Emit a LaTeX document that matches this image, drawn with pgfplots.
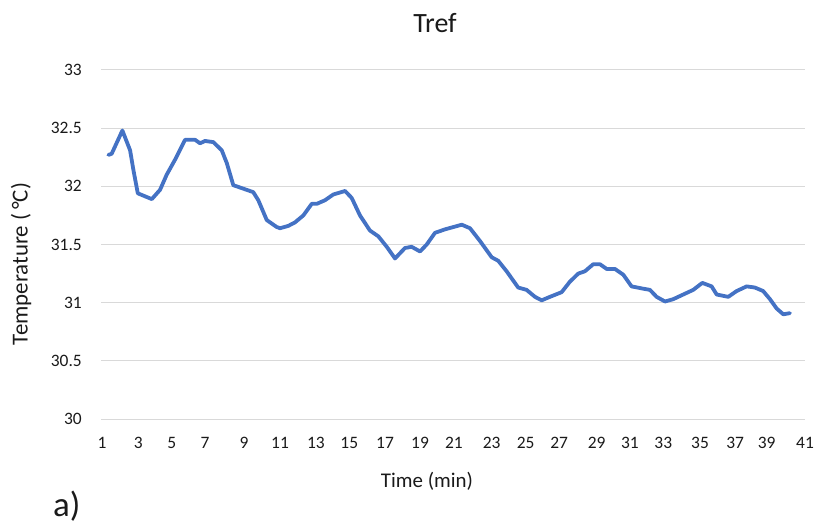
\documentclass[border=0pt]{standalone}
\usepackage{pgfplots}
\pgfplotsset{compat=1.18}
\usepackage{fontspec}
\setmainfont{Carlito}
\definecolor{seriesblue}{HTML}{4472C4}
\definecolor{gridgray}{HTML}{D9D9D9}
\definecolor{txt}{HTML}{1A1A1A}

\begin{document}
\begin{tikzpicture}
\path[use as bounding box] (0,0) rectangle (818bp,526bp);
\begin{axis}[
  at={(101bp,107bp)}, anchor=south west,
  scale only axis,
  width=704bp, height=349bp,
  xmin=0.94, xmax=41.12,
  ymin=30, ymax=33,
  ytick={30,30.5,...,33},
  xtick={1,3.07,4.98,6.88,9.10,11.16,13.21,15.11,17.15,19.15,21.08,23.24,25.18,27.09,29.23,31.13,33.03,35.13,37.13,38.93,41.12},
  xticklabels={1,3,5,7,9,11,13,15,17,19,21,23,25,27,29,31,33,35,37,39,41},
  axis line style={draw=none},
  major tick length=0pt,
  tick style={draw=none},
  ymajorgrids,
  grid style={draw=gridgray, line width=1pt},
  /pgf/number format/assume math mode=true,
  /pgf/number format/fixed,
  yticklabel style={font=\fontsize{17.5}{20}\selectfont, text=txt, inner sep=0pt, anchor=east, xshift=-19bp},
  xticklabel style={font=\fontsize{17.5}{20}\selectfont, text=txt, inner sep=0pt, anchor=north, yshift=-18bp},
  clip=false,
]
\addplot[seriesblue, line width=3.8bp, line join=round, line cap=round] table {
1.36 32.27
1.55 32.28
2.16 32.48
2.60 32.31
2.79 32.14
3.04 31.94
3.36 31.92
3.84 31.89
4.31 31.97
4.69 32.10
5.17 32.23
5.74 32.40
6.31 32.40
6.59 32.37
6.88 32.39
7.35 32.38
7.83 32.31
8.12 32.20
8.49 32.01
9.06 31.98
9.63 31.95
9.92 31.88
10.40 31.71
10.97 31.65
11.16 31.64
11.63 31.66
12.01 31.69
12.49 31.75
12.97 31.85
13.26 31.85
13.72 31.88
14.20 31.93
14.87 31.96
15.25 31.90
15.72 31.75
16.29 31.62
16.77 31.57
17.25 31.48
17.72 31.38
18.29 31.47
18.67 31.48
19.15 31.44
19.53 31.50
20.00 31.60
20.57 31.63
21.05 31.65
21.53 31.67
22.00 31.64
22.57 31.53
23.24 31.39
23.61 31.36
24.09 31.27
24.75 31.13
25.23 31.11
25.71 31.05
26.09 31.02
26.56 31.05
27.23 31.09
27.70 31.18
28.18 31.25
28.56 31.27
29.03 31.33
29.42 31.33
29.80 31.29
30.27 31.29
30.75 31.24
31.22 31.14
31.89 31.12
32.27 31.11
32.65 31.05
33.13 31.01
33.60 31.03
34.17 31.07
34.74 31.11
35.26 31.17
35.79 31.14
36.08 31.07
36.74 31.05
37.22 31.10
37.79 31.14
38.26 31.13
38.73 31.10
39.12 31.03
39.50 30.95
39.88 30.90
40.26 30.91
};
\end{axis}
% title, axis titles and panel tag
\node[text=txt, font=\fontsize{28}{32}\selectfont] at (435bp,503bp) {Tref};
\node[text=txt, font=\fontsize{21}{24}\selectfont] at (427bp,45bp) {Time (min)};
\node[text=txt, font=\fontsize{23}{26}\selectfont, rotate=90] at (21bp,262bp) {Temperature (\,\textdegree C)};
\node[text=txt, font=\fontsize{35}{40}\selectfont, anchor=west, inner sep=0pt] at (53bp,20bp) {a)};
\end{tikzpicture}
\end{document}
